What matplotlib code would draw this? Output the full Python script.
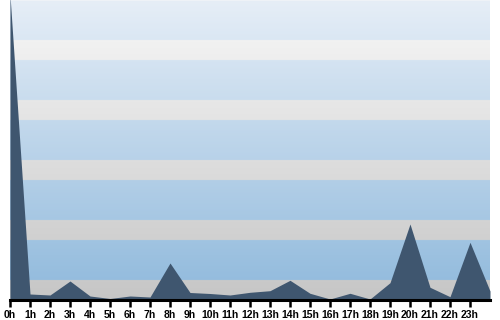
import numpy as np
import matplotlib
matplotlib.use('Agg')
import matplotlib.pyplot as plt
from matplotlib.colors import to_rgb

hours = [f'{h}h' for h in range(24)]
# one value per hour, plus the closing point at the right edge
values = [305, 6, 5, 19, 4, 1.5, 4, 3, 37, 7.5, 6.5, 5, 7.7, 9.3, 19.7, 6.7,
          1, 6.7, 1, 17.3, 76, 12.7, 3.3, 57.7, 9]

ymax = 300
band_period = 60   # blue band 40, grey band 20

fig = plt.figure(figsize=(5, 3.2), dpi=100)
ax = fig.add_axes([10 / 500, 20 / 320, 480 / 500, 300 / 320])

# background: alternating gradient bands
n = 600
ys = np.linspace(0, ymax, n)
blue_top, blue_bot = np.array(to_rgb('#e6eef7')), np.array(to_rgb('#8fb9dc'))
grey_top, grey_bot = np.array(to_rgb('#f8f8f8')), np.array(to_rgb('#c6c6c6'))
img = np.zeros((n, 1, 3))
for i, y in enumerate(ys):
    t = 1 - y / ymax
    if (y % band_period) < 20:
        c = grey_top * (1 - t) + grey_bot * t
    else:
        c = blue_top * (1 - t) + blue_bot * t
    img[i, 0] = c
ax.imshow(img, extent=[0, 24, 0, ymax], origin='lower', aspect='auto', zorder=0)

x = np.arange(len(values))
ax.fill_between(x, values, 0, color='#3f566f', lw=0, zorder=2)

ax.set_xlim(0, 24)
ax.set_ylim(0, ymax)
ax.set_xticks(range(24))
ax.set_xticklabels(hours, fontsize=7.5, fontweight='bold', family='Liberation Sans')
ax.set_yticks([])
for s in ['top', 'left', 'right']:
    ax.spines[s].set_visible(False)
ax.spines['bottom'].set_linewidth(2.2)
ax.spines['bottom'].set_color('black')
ax.tick_params(axis='x', length=5, width=1.8, color='black', pad=2)

fig.savefig('out.png', dpi=100)
